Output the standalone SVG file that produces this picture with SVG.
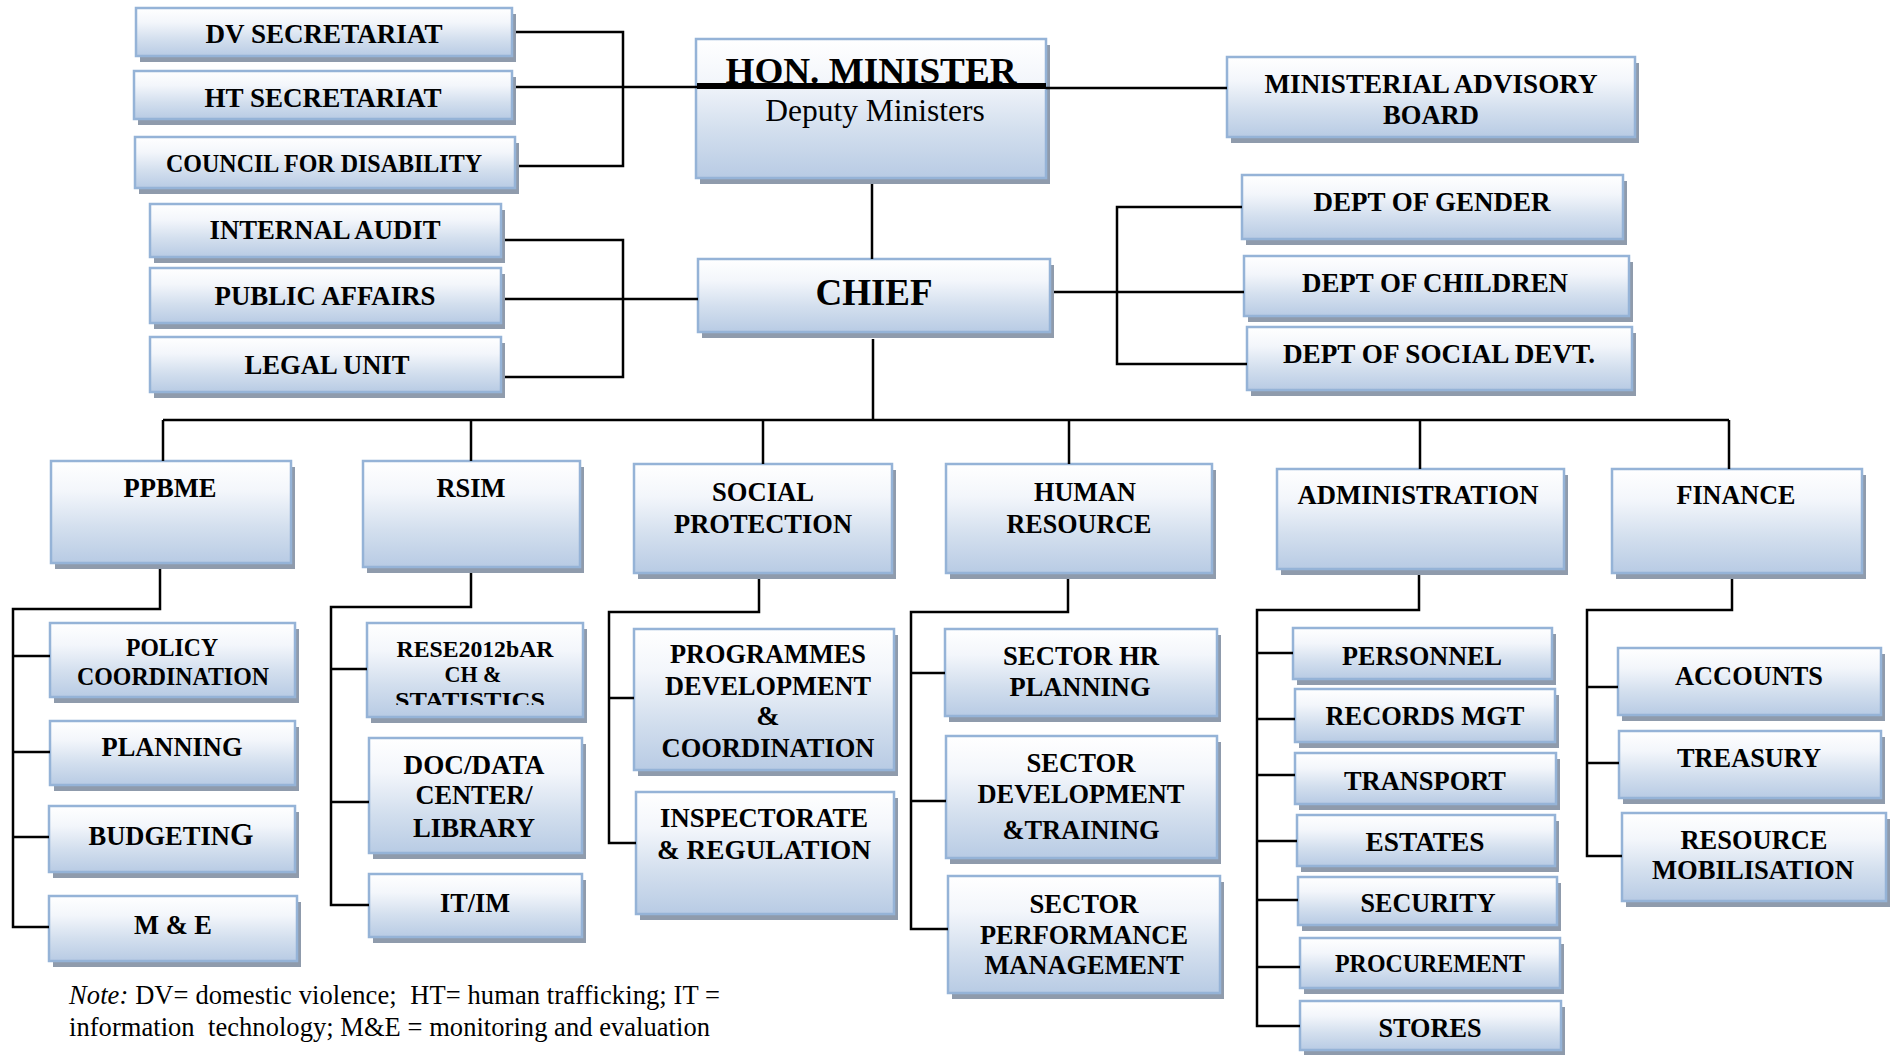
<svg xmlns="http://www.w3.org/2000/svg" width="1894" height="1055" viewBox="0 0 1894 1055">
<defs>
<linearGradient id="g" x1="0" y1="0" x2="0" y2="1">
<stop offset="0" stop-color="#ffffff"/>
<stop offset="0.3" stop-color="#f3f6fb"/>
<stop offset="0.65" stop-color="#d3dfee"/>
<stop offset="1" stop-color="#b8cbe4"/>
</linearGradient>
<clipPath id="clipRese"><rect x="367" y="623" width="216" height="82"/></clipPath>
</defs>
<style>
.sh{fill:#8f9bac}
.bx{fill:url(#g);stroke:#95b3d7;stroke-width:2.5}
text{font-family:"Liberation Serif","Times New Roman",serif;font-weight:bold;font-size:28px;fill:#000;text-anchor:middle}
.s{font-size:26px}
.p{font-size:24.5px}
.r{font-size:23px}
.n{font-weight:normal;text-anchor:start;font-size:26.5px;white-space:pre}
.c{fill:none;stroke:#000;stroke-width:2.5}
</style>
<rect width="1894" height="1055" fill="#fff"/>

<g id="nodes">
<g id="dv-secretariat"><rect class="sh" x="140" y="14" width="376" height="48"/><rect class="bx" x="136" y="8" width="376" height="48"/><text x="324" y="43" textLength="237" lengthAdjust="spacingAndGlyphs">DV SECRETARIAT</text></g>
<g id="ht-secretariat"><rect class="sh" x="138" y="77" width="378" height="48"/><rect class="bx" x="134" y="71" width="378" height="48"/><text x="323" y="107" textLength="237" lengthAdjust="spacingAndGlyphs">HT SECRETARIAT</text></g>
<g id="council-disability"><rect class="sh" x="139" y="143" width="380" height="51"/><rect class="bx" x="135" y="137" width="380" height="51"/><text class="s" x="324" y="172" textLength="316" lengthAdjust="spacingAndGlyphs">COUNCIL FOR DISABILITY</text></g>
<g id="internal-audit"><rect class="sh" x="154" y="210" width="351" height="53"/><rect class="bx" x="150" y="204" width="351" height="53"/><text x="325" y="239" textLength="231" lengthAdjust="spacingAndGlyphs">INTERNAL AUDIT</text></g>
<g id="public-affairs"><rect class="sh" x="154" y="274" width="351" height="55"/><rect class="bx" x="150" y="268" width="351" height="55"/><text x="325" y="305" textLength="221" lengthAdjust="spacingAndGlyphs">PUBLIC AFFAIRS</text></g>
<g id="legal-unit"><rect class="sh" x="154" y="343" width="351" height="55"/><rect class="bx" x="150" y="337" width="351" height="55"/><text x="327" y="374" textLength="165" lengthAdjust="spacingAndGlyphs">LEGAL UNIT</text></g>

<g id="hon-minister"><rect class="sh" x="700" y="45" width="350" height="139"/><rect class="bx" x="696" y="39" width="350" height="139"/><text x="871" y="83" style="font-size:36px" textLength="291" lengthAdjust="spacingAndGlyphs">HON. MINISTER</text><text x="875" y="121" style="font-weight:normal;font-size:31.5px">Deputy Ministers</text></g>
<g id="chief"><rect class="sh" x="702" y="265" width="352" height="73"/><rect class="bx" x="698" y="259" width="352" height="73"/><text x="874" y="305" style="font-size:37px">CHIEF</text></g>
<g id="ministerial-advisory-board"><rect class="sh" x="1231" y="63" width="408" height="80"/><rect class="bx" x="1227" y="57" width="408" height="80"/><text x="1431" y="93" textLength="333" lengthAdjust="spacingAndGlyphs">MINISTERIAL ADVISORY</text><text x="1431" y="124" textLength="96" lengthAdjust="spacingAndGlyphs">BOARD</text></g>
<g id="dept-gender"><rect class="sh" x="1246" y="181" width="381" height="64"/><rect class="bx" x="1242" y="175" width="381" height="64"/><text x="1432" y="211" textLength="237" lengthAdjust="spacingAndGlyphs">DEPT OF GENDER</text></g>
<g id="dept-children"><rect class="sh" x="1248" y="262" width="385" height="60"/><rect class="bx" x="1244" y="256" width="385" height="60"/><text x="1435" y="292" textLength="266" lengthAdjust="spacingAndGlyphs">DEPT OF CHILDREN</text></g>
<g id="dept-social-devt"><rect class="sh" x="1251" y="333" width="385" height="63"/><rect class="bx" x="1247" y="327" width="385" height="63"/><text x="1439" y="363" textLength="312" lengthAdjust="spacingAndGlyphs">DEPT OF SOCIAL DEVT.</text></g>

<g id="ppbme"><rect class="sh" x="55" y="467" width="240" height="102"/><rect class="bx" x="51" y="461" width="240" height="102"/><text x="170" y="497" textLength="93" lengthAdjust="spacingAndGlyphs">PPBME</text></g>
<g id="rsim"><rect class="sh" x="367" y="467" width="217" height="106"/><rect class="bx" x="363" y="461" width="217" height="106"/><text x="471" y="497" textLength="69" lengthAdjust="spacingAndGlyphs">RSIM</text></g>
<g id="social-protection"><rect class="sh" x="638" y="470" width="258" height="109"/><rect class="bx" x="634" y="464" width="258" height="109"/><text x="763" y="501" textLength="102" lengthAdjust="spacingAndGlyphs">SOCIAL</text><text x="763" y="533" textLength="178" lengthAdjust="spacingAndGlyphs">PROTECTION</text></g>
<g id="human-resource"><rect class="sh" x="950" y="470" width="266" height="109"/><rect class="bx" x="946" y="464" width="266" height="109"/><text x="1085" y="501" textLength="102" lengthAdjust="spacingAndGlyphs">HUMAN</text><text x="1079" y="533" textLength="145" lengthAdjust="spacingAndGlyphs">RESOURCE</text></g>
<g id="administration"><rect class="sh" x="1281" y="475" width="287" height="100"/><rect class="bx" x="1277" y="469" width="287" height="100"/><text x="1418" y="504" textLength="241" lengthAdjust="spacingAndGlyphs">ADMINISTRATION</text></g>
<g id="finance"><rect class="sh" x="1616" y="475" width="250" height="104"/><rect class="bx" x="1612" y="469" width="250" height="104"/><text x="1736" y="504" textLength="119" lengthAdjust="spacingAndGlyphs">FINANCE</text></g>

<g id="policy-coordination"><rect class="sh" x="54" y="629" width="245" height="74"/><rect class="bx" x="50" y="623" width="245" height="74"/><text class="p" x="172" y="656" textLength="92" lengthAdjust="spacingAndGlyphs">POLICY</text><text class="p" x="173" y="685" textLength="192" lengthAdjust="spacingAndGlyphs">COORDINATION</text></g>
<g id="planning"><rect class="sh" x="54" y="727" width="245" height="64"/><rect class="bx" x="50" y="721" width="245" height="64"/><text x="172" y="756" textLength="141" lengthAdjust="spacingAndGlyphs">PLANNING</text></g>
<g id="budgeting"><rect class="sh" x="53" y="812" width="246" height="66"/><rect class="bx" x="49" y="806" width="246" height="66"/><text x="171" y="845" textLength="165" lengthAdjust="spacingAndGlyphs">BUDGETIN<tspan style="font-size:32px">G</tspan></text></g>
<g id="m-and-e"><rect class="sh" x="53" y="902" width="248" height="65"/><rect class="bx" x="49" y="896" width="248" height="65"/><text x="173" y="934" textLength="78" lengthAdjust="spacingAndGlyphs">M &amp; E</text></g>

<g id="research-statistics"><rect class="sh" x="371" y="629" width="216" height="94"/><rect class="bx" x="367" y="623" width="216" height="94"/><text class="r" x="475" y="657" textLength="157" lengthAdjust="spacingAndGlyphs">RESE2012bAR</text><text class="r" x="473" y="682" textLength="57" lengthAdjust="spacingAndGlyphs">CH &amp;</text><text class="r" x="470" y="708" textLength="150" lengthAdjust="spacingAndGlyphs" clip-path="url(#clipRese)">STATISTICS</text></g>
<g id="doc-data-center"><rect class="sh" x="373" y="744" width="213" height="115"/><rect class="bx" x="369" y="738" width="213" height="115"/><text x="474" y="774" textLength="141" lengthAdjust="spacingAndGlyphs">DOC/DATA</text><text x="474" y="804" textLength="117" lengthAdjust="spacingAndGlyphs">CENTER/</text><text x="474" y="837" textLength="122" lengthAdjust="spacingAndGlyphs">LIBRARY</text></g>
<g id="it-im"><rect class="sh" x="373" y="880" width="213" height="63"/><rect class="bx" x="369" y="874" width="213" height="63"/><text x="475" y="912" textLength="70" lengthAdjust="spacingAndGlyphs">IT/IM</text></g>

<g id="programmes-development"><rect class="sh" x="638" y="635" width="260" height="141"/><rect class="bx" x="634" y="629" width="260" height="141"/><text x="768" y="663" textLength="196" lengthAdjust="spacingAndGlyphs">PROGRAMMES</text><text x="768" y="695" textLength="206" lengthAdjust="spacingAndGlyphs">DEVELOPMENT</text><text x="768" y="725">&amp;</text><text x="768" y="757" textLength="213" lengthAdjust="spacingAndGlyphs">COORDINATION</text></g>
<g id="inspectorate-regulation"><rect class="sh" x="640" y="798" width="258" height="122"/><rect class="bx" x="636" y="792" width="258" height="122"/><text x="764" y="827" textLength="208" lengthAdjust="spacingAndGlyphs">INSPECTORATE</text><text x="764" y="859" textLength="214" lengthAdjust="spacingAndGlyphs">&amp; REGULATION</text></g>

<g id="sector-hr-planning"><rect class="sh" x="949" y="635" width="272" height="87"/><rect class="bx" x="945" y="629" width="272" height="87"/><text x="1081" y="665" textLength="156" lengthAdjust="spacingAndGlyphs">SECTOR HR</text><text x="1080" y="696" textLength="141" lengthAdjust="spacingAndGlyphs">PLANNING</text></g>
<g id="sector-development-training"><rect class="sh" x="950" y="742" width="271" height="122"/><rect class="bx" x="946" y="736" width="271" height="122"/><text x="1081" y="772" textLength="109" lengthAdjust="spacingAndGlyphs">SECTOR</text><text x="1081" y="803" textLength="207" lengthAdjust="spacingAndGlyphs">DEVELOPMENT</text><text x="1081" y="839" textLength="157" lengthAdjust="spacingAndGlyphs">&amp;TRAINING</text></g>
<g id="sector-performance"><rect class="sh" x="952" y="882" width="272" height="117"/><rect class="bx" x="948" y="876" width="272" height="117"/><text x="1084" y="913" textLength="109" lengthAdjust="spacingAndGlyphs">SECTOR</text><text x="1084" y="944" textLength="208" lengthAdjust="spacingAndGlyphs">PERFORMANCE</text><text x="1084" y="974" textLength="199" lengthAdjust="spacingAndGlyphs">MANAGEMENT</text></g>

<g id="personnel"><rect class="sh" x="1297" y="634" width="259" height="51"/><rect class="bx" x="1293" y="628" width="259" height="51"/><text x="1422" y="665" textLength="160" lengthAdjust="spacingAndGlyphs">PERSONNEL</text></g>
<g id="records-mgt"><rect class="sh" x="1299" y="695" width="260" height="53"/><rect class="bx" x="1295" y="689" width="260" height="53"/><text x="1425" y="725" textLength="199" lengthAdjust="spacingAndGlyphs">RECORDS MGT</text></g>
<g id="transport"><rect class="sh" x="1299" y="759" width="261" height="51"/><rect class="bx" x="1295" y="753" width="261" height="51"/><text x="1425" y="790" textLength="162" lengthAdjust="spacingAndGlyphs">TRANSPORT</text></g>
<g id="estates"><rect class="sh" x="1301" y="821" width="258" height="51"/><rect class="bx" x="1297" y="815" width="258" height="51"/><text x="1425" y="851" textLength="119" lengthAdjust="spacingAndGlyphs">ESTATES</text></g>
<g id="security"><rect class="sh" x="1302" y="883" width="259" height="48"/><rect class="bx" x="1298" y="877" width="259" height="48"/><text x="1428" y="912" textLength="135" lengthAdjust="spacingAndGlyphs">SECURITY</text></g>
<g id="procurement"><rect class="sh" x="1304" y="944" width="260" height="50"/><rect class="bx" x="1300" y="938" width="260" height="50"/><text class="s" x="1430" y="972" textLength="190" lengthAdjust="spacingAndGlyphs">PROCUREMENT</text></g>
<g id="stores"><rect class="sh" x="1304" y="1007" width="261" height="49"/><rect class="bx" x="1300" y="1001" width="261" height="49"/><text x="1430" y="1037" textLength="103" lengthAdjust="spacingAndGlyphs">STORES</text></g>

<g id="accounts"><rect class="sh" x="1622" y="654" width="263" height="67"/><rect class="bx" x="1618" y="648" width="263" height="67"/><text x="1749" y="685" textLength="148" lengthAdjust="spacingAndGlyphs">ACCOUNTS</text></g>
<g id="treasury"><rect class="sh" x="1623" y="737" width="262" height="67"/><rect class="bx" x="1619" y="731" width="262" height="67"/><text x="1749" y="767" textLength="144" lengthAdjust="spacingAndGlyphs">TREASURY</text></g>
<g id="resource-mobilisation"><rect class="sh" x="1626" y="819" width="264" height="88"/><rect class="bx" x="1622" y="813" width="264" height="88"/><text x="1754" y="849" textLength="147" lengthAdjust="spacingAndGlyphs">RESOURCE</text><text x="1753" y="879" textLength="202" lengthAdjust="spacingAndGlyphs">MOBILISATION</text></g>
</g>

<g id="connectors">
<path class="c" d="M516 32H623V166H519 M516 87H697 M505 240H623V377H505 M505 299H698 M1046 88H1227 M872 184V259 M1054 292H1244 M1242 207H1117V364H1247 M873 339V420 M163 420H1729 M163 420V461 M471 420V461 M763 420V464 M1069 420V464 M1420 420V469 M1729 420V469"/>
<path class="c" d="M160 569V609H13V927H49 M13 656H50 M13 752H50 M13 837H49"/>
<path class="c" d="M471 573V607H331V905H369 M331 669H367 M331 802H369"/>
<path class="c" d="M759 579V612H609V843H636 M609 698H634"/>
<path class="c" d="M1068 579V612H911V929H948 M911 673H945 M911 801H946"/>
<path class="c" d="M1419 575V610H1257V1026H1300 M1257 653H1293 M1257 719H1295 M1257 775H1295 M1257 841H1297 M1257 900H1298 M1257 967H1300"/>
<path class="c" d="M1732 579V610H1587V856H1622 M1587 687H1618 M1587 763H1619"/>
<line x1="697" y1="86" x2="1046" y2="86" stroke="#000" stroke-width="6"/>
</g>

<g id="note">
<text class="n" x="69" y="1004" textLength="651" xml:space="preserve"><tspan style="font-style:italic">Note:</tspan> DV= domestic violence;  HT= human trafficking; IT =</text>
<text class="n" x="69" y="1036" textLength="641" xml:space="preserve">information  technology; M&amp;E = monitoring and evaluation</text>
</g>
</svg>
